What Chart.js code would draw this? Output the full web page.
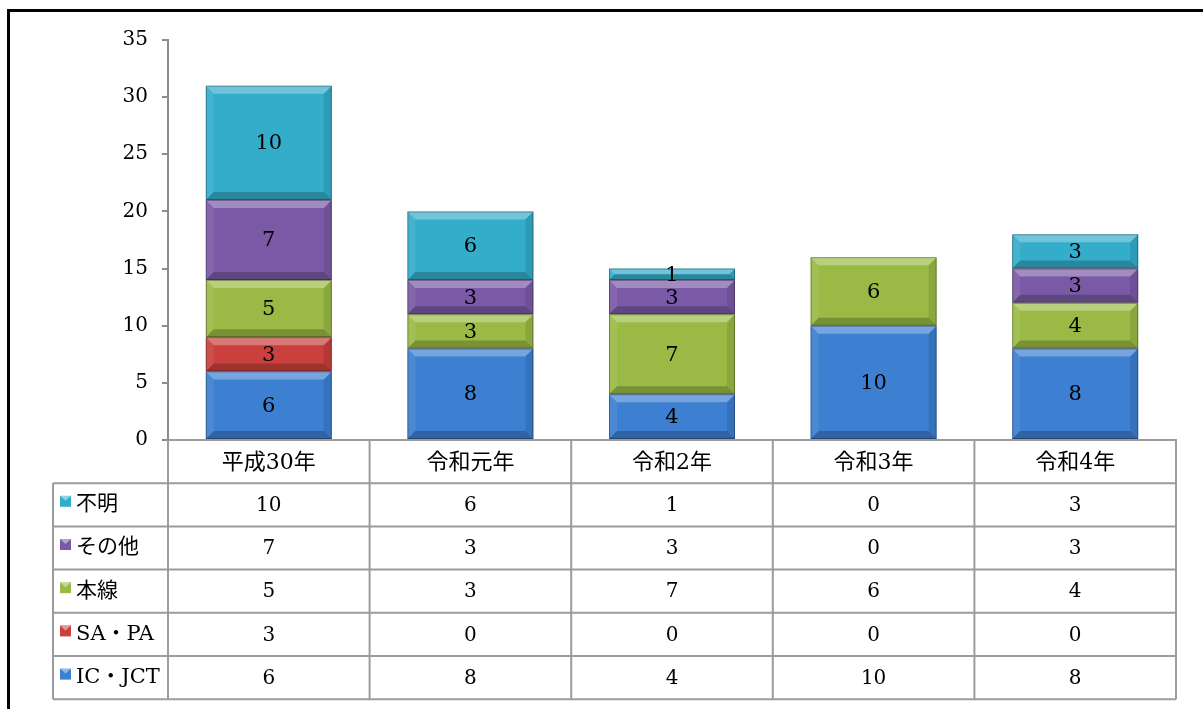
<!DOCTYPE html>
<html>
<head>
<meta charset="utf-8">
<script src="https://cdn.jsdelivr.net/npm/chart.js@4"></script>
<style>
body { margin:0; background:#fff; overflow:hidden; }
#frame { position:absolute; left:7px; top:9px; width:1300px; height:800px; border:3px solid #000; }
#wrap { position:absolute; left:0; top:0; width:1203px; height:709px; }
</style>
</head>
<body>
<div id="frame"></div>
<div id="wrap"><canvas id="myChart" width="1203" height="709"></canvas></div>
<script>
// data
const categories = ['平成30年', '令和元年', '令和2年', '令和3年', '令和4年'];
const icJct  = [6, 8, 4, 10, 8];
const saPa   = [3, 0, 0, 0, 0];
const honsen = [5, 3, 7, 6, 4];
const sonota = [7, 3, 3, 0, 3];
const fumei  = [10, 6, 1, 0, 3];
const seriesNames = ['IC・JCT', 'SA・PA', '本線', 'その他', '不明'];
const seriesData = [icJct, saPa, honsen, sonota, fumei];
const seriesColors = ['#3d7fd1', '#c9403d', '#9aba45', '#7a5aa6', '#34adcb'];
const yMax = 35;
const yStep = 5;

const fontFam = "'DejaVu Serif', 'Noto Sans CJK JP', serif";
const rowH = 43.2;

function bevel(ctx, l, t, r, b, d) {
  ctx.fillStyle = 'rgba(255,255,255,0.30)';
  ctx.beginPath(); ctx.moveTo(l, t); ctx.lineTo(r, t); ctx.lineTo(r - d, t + d); ctx.lineTo(l + d, t + d); ctx.closePath(); ctx.fill();
  ctx.fillStyle = 'rgba(255,255,255,0.08)';
  ctx.beginPath(); ctx.moveTo(l, t); ctx.lineTo(l + d, t + d); ctx.lineTo(l + d, b - d); ctx.lineTo(l, b); ctx.closePath(); ctx.fill();
  ctx.fillStyle = 'rgba(0,0,0,0.10)';
  ctx.beginPath(); ctx.moveTo(r, t); ctx.lineTo(r - d, t + d); ctx.lineTo(r - d, b - d); ctx.lineTo(r, b); ctx.closePath(); ctx.fill();
  ctx.fillStyle = 'rgba(0,0,0,0.22)';
  ctx.beginPath(); ctx.moveTo(l, b); ctx.lineTo(r, b); ctx.lineTo(r - d, b - d); ctx.lineTo(l + d, b - d); ctx.closePath(); ctx.fill();
  ctx.strokeStyle = 'rgba(0,0,0,0.3)';
  ctx.lineWidth = 1;
  ctx.strokeRect(l + 0.5, t + 0.5, r - l - 1, b - t - 1);
}

const barDeco = {
  id: 'barDeco',
  afterDatasetsDraw(chart) {
    const ctx = chart.ctx;
    ctx.save();
    chart.data.datasets.forEach((ds, i) => {
      chart.getDatasetMeta(i).data.forEach(el => {
        const h = el.base - el.y;
        if (h < 1) return;
        const l = el.x - el.width / 2, r = el.x + el.width / 2;
        bevel(ctx, l, el.y, r, el.base, Math.min(8, h / 2));
      });
    });
    ctx.fillStyle = '#000';
    ctx.font = '21px ' + fontFam;
    ctx.textAlign = 'center';
    ctx.textBaseline = 'middle';
    chart.data.datasets.forEach((ds, i) => {
      chart.getDatasetMeta(i).data.forEach((el, j) => {
        const v = ds.data[j];
        if (!v) return;
        ctx.fillText(String(v), el.x, (el.y + el.base) / 2 + 1);
      });
    });
    ctx.restore();
  }
};

const dataTable = {
  id: 'dataTable',
  afterDraw(chart) {
    const ctx = chart.ctx, area = chart.chartArea;
    const n = categories.length;
    const step = (area.right - area.left) / n;
    const top = area.bottom;
    const tableLeft = 53;
    const nRows = seriesNames.length;
    const bottom = top + rowH * (nRows + 1);
    ctx.save();
    ctx.strokeStyle = '#9c9c9c';
    ctx.lineWidth = 2;
    ctx.beginPath();
    for (let i = 0; i <= n; i++) {
      const px = area.left + i * step;
      ctx.moveTo(px, top); ctx.lineTo(px, bottom);
    }
    for (let r = 1; r <= nRows + 1; r++) {
      const py = top + r * rowH;
      ctx.moveTo(tableLeft, py); ctx.lineTo(area.right, py);
    }
    ctx.moveTo(tableLeft, top + rowH); ctx.lineTo(tableLeft, bottom);
    ctx.stroke();

    ctx.textBaseline = 'middle';
    for (let r = 0; r < nRows; r++) {
      const s = nRows - 1 - r; // top row is last series
      const cy = top + rowH * (r + 1) + rowH / 2;
      // legend key
      ctx.fillStyle = seriesColors[s];
      ctx.fillRect(60, cy - 9, 11, 11);
      ctx.fillStyle = 'rgba(255,255,255,0.45)';
      ctx.beginPath(); ctx.moveTo(60, cy - 9); ctx.lineTo(71, cy - 9); ctx.lineTo(65.5, cy - 4); ctx.closePath(); ctx.fill();
      ctx.fillStyle = '#000';
      ctx.textAlign = 'left';
      ctx.font = '21px ' + fontFam;
      ctx.fillText(seriesNames[s], 76, cy);
      ctx.textAlign = 'center';
      ctx.font = '20px ' + fontFam;
      seriesData[s].forEach((v, j) => {
        ctx.fillText(String(v), area.left + step * (j + 0.5), cy + 1);
      });
    }
    ctx.restore();
  }
};

const ctx = document.getElementById('myChart').getContext('2d');
const myChart = new Chart(ctx, {
  type: 'bar',
  data: {
    labels: categories,
    datasets: seriesNames.map((name, i) => ({
      label: name,
      data: seriesData[i],
      backgroundColor: seriesColors[i],
      borderWidth: 0,
      categoryPercentage: 1,
      barPercentage: 0.625
    }))
  },
  options: {
    responsive: false,
    animation: false,
    layout: { padding: { left: 10, top: 40, right: 27, bottom: 709 - 440 - rowH } },
    plugins: { legend: { display: false }, tooltip: { enabled: false } },
    scales: {
      x: {
        stacked: true,
        grid: { display: false, drawTicks: false },
        border: { color: '#9c9c9c', width: 2 },
        ticks: { color: '#000', padding: 10, font: { family: fontFam, size: 22 } },
        afterFit(axis) { axis.height = rowH; }
      },
      y: {
        stacked: true,
        min: 0,
        max: yMax,
        grid: { drawOnChartArea: false, tickLength: 6, color: '#8c8c8c', lineWidth: 2 },
        border: { color: '#8c8c8c', width: 2 },
        ticks: { stepSize: yStep, color: '#000', padding: 14, font: { family: fontFam, size: 20 } },
        afterFit(axis) { axis.width = 158; }
      }
    }
  },
  plugins: [barDeco, dataTable]
});
</script>
</body>
</html>
